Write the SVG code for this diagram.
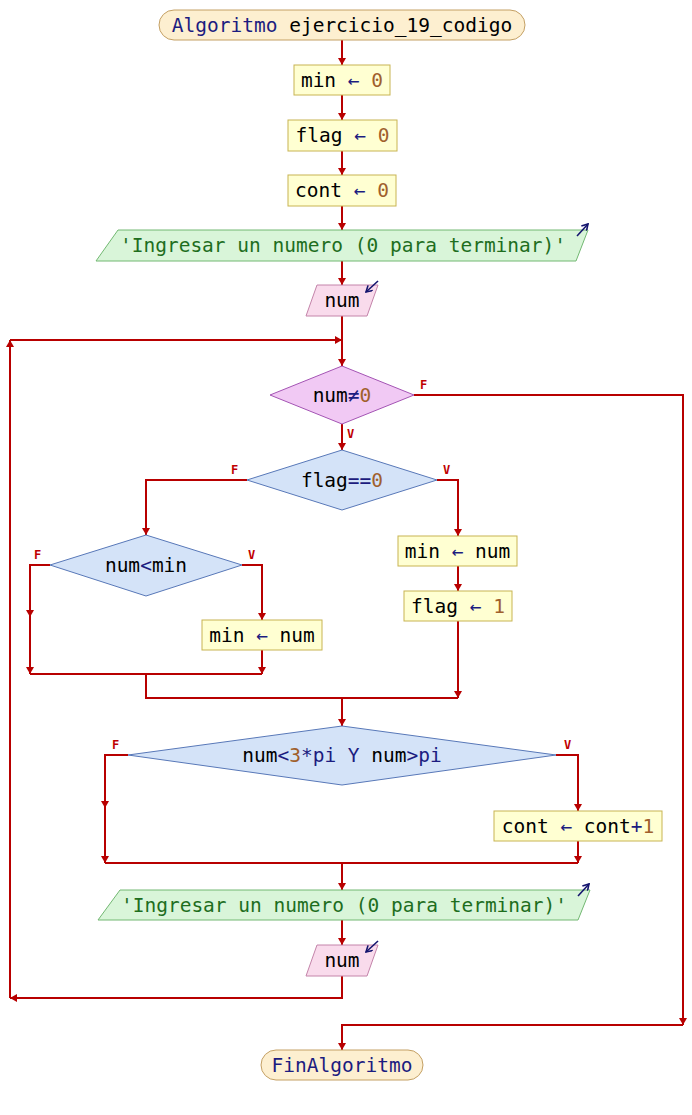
<svg xmlns="http://www.w3.org/2000/svg" width="692" height="1115" viewBox="0 0 692 1115">
<defs>
<marker id="ah" viewBox="0 0 7 8" refX="7" refY="4" markerWidth="7" markerHeight="8" markerUnits="userSpaceOnUse" orient="auto"><path d="M0,0 L7,4 L0,8 z" fill="#b80000"/></marker>
<marker id="ic" viewBox="0 0 8 8" refX="7" refY="4" markerWidth="8" markerHeight="8" markerUnits="userSpaceOnUse" orient="auto"><path d="M1,0.5 L7,4 L1,7.5" fill="none" stroke="#14146e" stroke-width="1.6"/></marker>
</defs>
<style>
text{font-family:"DejaVu Sans Mono","Liberation Mono",monospace;font-size:19.5px;fill:#000}
.kw{fill:#1c1c80}
.nm{fill:#a0602c}
.str{fill:#1e6e1e}
.term{fill:#fdefd0;stroke:#c4a064;stroke-width:1}
.proc{fill:#ffffd2;stroke:#c8b452;stroke-width:1}
.out{fill:#d9f5d9;stroke:#72b872;stroke-width:1}
.inp{fill:#f9dbec;stroke:#c484aa;stroke-width:1}
.dec{fill:#d4e3f8;stroke:#5878b8;stroke-width:1}
.decw{fill:#f1c9f4;stroke:#a454b4;stroke-width:1}
.c{fill:none;stroke:#b80000;stroke-width:2}
.a{marker-end:url(#ah)}
.ico{fill:none;stroke:#14146e;stroke-width:1.6;marker-end:url(#ic)}
.lb{font-size:12px;font-weight:bold;fill:#c00000;font-family:"DejaVu Sans Mono",monospace}
</style>
<g id="connectors">
<path class="c a" d="M342,40 V65"/>
<path class="c a" d="M342,95 V120"/>
<path class="c a" d="M342,151 V175"/>
<path class="c a" d="M342,206 V230"/>
<path class="c a" d="M342,261 V285"/>
<path class="c" d="M342,316 V340"/>
<path class="c a" d="M342,340 V366"/>
<path class="c a" d="M342,424 V450"/>
<path class="c a" d="M414,395 H683 V1025"/>
<path class="c a" d="M683,1025 H342 V1050"/>
<path class="c a" d="M437,480 H458 V536"/>
<path class="c a" d="M458,566 V591"/>
<path class="c a" d="M458,621 V698"/>
<path class="c a" d="M247,480 H146 V535"/>
<path class="c a" d="M50,565 H30 V617"/>
<path class="c a" d="M30,617 V674"/>
<path class="c a" d="M242,565 H262 V620"/>
<path class="c a" d="M262,650 V674"/>
<path class="c" d="M30,674 H262"/>
<path class="c" d="M146,674 V698 H458"/>
<path class="c a" d="M342,698 V726"/>
<path class="c a" d="M128,755 H105 V808"/>
<path class="c a" d="M105,808 V863"/>
<path class="c a" d="M556,755 H578 V811"/>
<path class="c a" d="M578,841 V863"/>
<path class="c" d="M105,863 H578"/>
<path class="c a" d="M342,863 V890"/>
<path class="c a" d="M342,920 V945"/>
<path class="c a" d="M342,976 V998 H10"/>
<path class="c a" d="M10,998 V340"/>
<path class="c a" d="M10,340 H342"/>
</g>
<g id="labels">
<text class="lb" x="420" y="389">F</text>
<text class="lb" x="347" y="438">V</text>
<text class="lb" x="231" y="474">F</text>
<text class="lb" x="443" y="474">V</text>
<text class="lb" x="34" y="559">F</text>
<text class="lb" x="248" y="559">V</text>
<text class="lb" x="112" y="749">F</text>
<text class="lb" x="564" y="749">V</text>
</g>
<g id="start">
<rect class="term" x="159" y="10" width="366" height="30" rx="15" ry="15"/>
<text x="342" y="32" text-anchor="middle"><tspan class="kw">Algoritmo</tspan> ejercicio_19_codigo</text>
</g>
<g id="min0">
<rect class="proc" x="294" y="65" width="96" height="30"/>
<text x="342" y="87" text-anchor="middle">min <tspan class="kw">←</tspan> <tspan class="nm">0</tspan></text>
</g>
<g id="flag0">
<rect class="proc" x="288" y="120" width="109" height="31"/>
<text x="342.5" y="142" text-anchor="middle">flag <tspan class="kw">←</tspan> <tspan class="nm">0</tspan></text>
</g>
<g id="cont0">
<rect class="proc" x="288" y="175" width="108" height="31"/>
<text x="342" y="197" text-anchor="middle">cont <tspan class="kw">←</tspan> <tspan class="nm">0</tspan></text>
</g>
<g id="out1">
<polygon class="out" points="118,230 588,230 576,261 96,261"/>
<text class="str" x="343" y="252" text-anchor="middle">'Ingresar un numero (0 para terminar)'</text>
<path class="ico" d="M577,236 L588,224"/>
</g>
<g id="in1">
<polygon class="inp" points="317,285 378,285 367,316 306,316"/>
<text x="342" y="307" text-anchor="middle">num</text>
<path class="ico" d="M378,281 L366,292"/>
</g>
<g id="while">
<polygon class="decw" points="342,366 414,395 342,424 270,395"/>
<text x="342" y="402" text-anchor="middle">num<tspan class="kw">≠</tspan><tspan class="nm">0</tspan></text>
</g>
<g id="ifflag">
<polygon class="dec" points="342,450 437,480 342,510 247,480"/>
<text x="342" y="487" text-anchor="middle">flag<tspan class="kw">==</tspan><tspan class="nm">0</tspan></text>
</g>
<g id="minnum1">
<rect class="proc" x="398" y="536" width="119" height="30"/>
<text x="457.5" y="558" text-anchor="middle">min <tspan class="kw">←</tspan> num</text>
</g>
<g id="flag1">
<rect class="proc" x="404" y="591" width="108" height="30"/>
<text x="458" y="613" text-anchor="middle">flag <tspan class="kw">←</tspan> <tspan class="nm">1</tspan></text>
</g>
<g id="ifmin">
<polygon class="dec" points="146,535 242,565 146,596 50,565"/>
<text x="146" y="572" text-anchor="middle">num<tspan class="kw">&lt;</tspan>min</text>
</g>
<g id="minnum2">
<rect class="proc" x="202" y="620" width="120" height="30"/>
<text x="262" y="642" text-anchor="middle">min <tspan class="kw">←</tspan> num</text>
</g>
<g id="ifpi">
<polygon class="dec" points="342,726 556,755 342,785 128,755"/>
<text x="342" y="762" text-anchor="middle">num<tspan class="kw">&lt;</tspan><tspan class="nm">3</tspan><tspan class="kw">*pi Y </tspan>num<tspan class="kw">&gt;pi</tspan></text>
</g>
<g id="continc">
<rect class="proc" x="494" y="811" width="168" height="30"/>
<text x="578" y="833" text-anchor="middle">cont <tspan class="kw">←</tspan> cont<tspan class="kw">+</tspan><tspan class="nm">1</tspan></text>
</g>
<g id="out2">
<polygon class="out" points="120,890 590,890 578,920 98,920"/>
<text class="str" x="344" y="912" text-anchor="middle">'Ingresar un numero (0 para terminar)'</text>
<path class="ico" d="M578,896 L589,884"/>
</g>
<g id="in2">
<polygon class="inp" points="317,945 378,945 367,976 306,976"/>
<text x="342" y="967" text-anchor="middle">num</text>
<path class="ico" d="M378,941 L366,952"/>
</g>
<g id="end">
<rect class="term" x="261" y="1050" width="162" height="30" rx="15" ry="15"/>
<text class="kw" x="342" y="1072" text-anchor="middle">FinAlgoritmo</text>
</g>
</svg>
